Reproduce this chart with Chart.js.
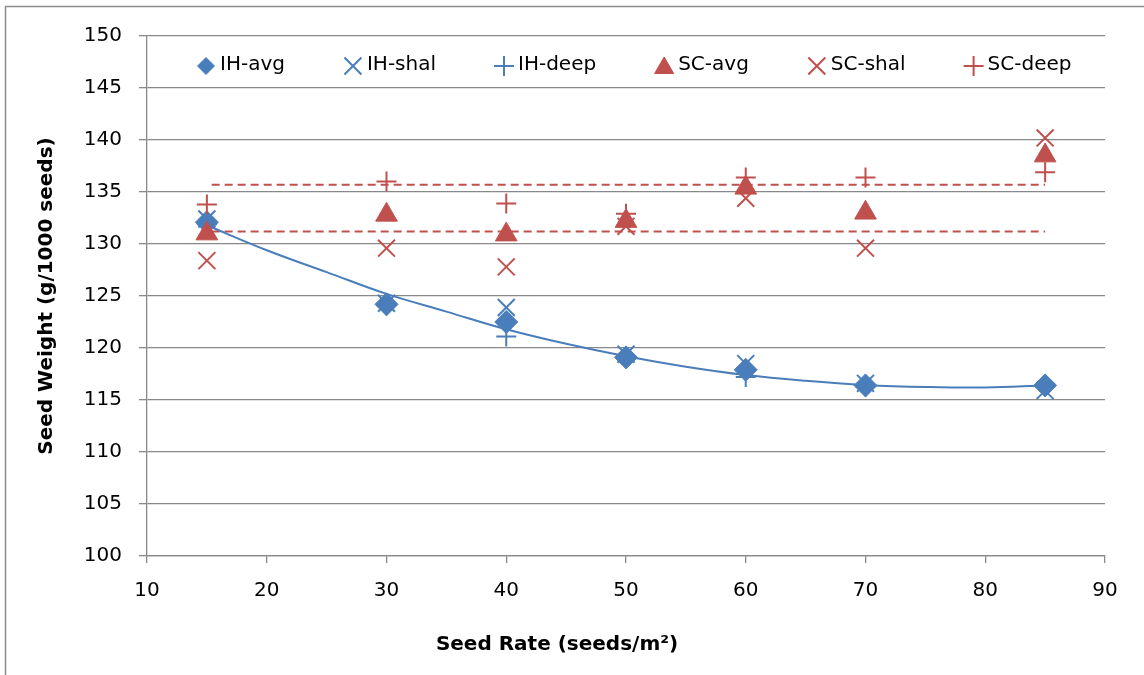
<!DOCTYPE html>
<html>
<head>
<meta charset="utf-8">
<script src="https://cdn.jsdelivr.net/npm/chart.js@4.4.0/dist/chart.umd.min.js"></script>
<style>
html,body{margin:0;padding:0;background:#fff;}
#wrap{position:relative;width:1144px;height:675px;}
</style>
</head>
<body>
<div id="wrap"><canvas id="c" width="1144" height="675"></canvas></div>
<script>
// ---- data ----
const seedRates = [15, 30, 40, 50, 60, 70, 85];
const ihAvg  = [132.1, 124.2, 122.5, 119.1, 117.9, 116.4, 116.4];
const ihShal = [132.4, 124.3, 123.9, 119.4, 118.5, 116.6, 115.9];
const ihDeep = [131.9, 124.1, 121.1, 119.0, 117.2, 116.3, 116.5];
const scAvg  = [131.0, 132.8, 130.9, 132.2, 135.4, 133.0, 138.5];
const scShal = [128.4, 129.6, 127.8, 131.7, 134.4, 129.6, 140.2];
const scDeep = [133.8, 136.0, 133.9, 132.9, 136.4, 136.4, 136.9];

// IH trendline (polynomial curve) read at sample x positions
const trendX  = [15, 20, 25, 30, 35, 40, 45, 50, 55, 60, 65, 70, 75, 80, 85];
const trendIH = [131.8, 129.4, 127.3, 125.2, 123.5, 121.8, 120.4, 119.2, 118.2, 117.4, 116.85, 116.45, 116.25, 116.2, 116.4];

// SC horizontal dashed reference lines
const refX       = [15.4, 85];
const scUpperRef = [135.7, 135.7];
const scLowerRef = [131.2, 131.2];

const seriesLabels = ['IH-avg', 'IH-shal', 'IH-deep', 'SC-avg', 'SC-shal', 'SC-deep'];
const xTitle = 'Seed Rate (seeds/m\u00B2)';
const yTitle = 'Seed Weight (g/1000 seeds)';

// ---- helpers ----
const pts = (xs, ys) => xs.map((x, i) => ({x: x, y: ys[i]}));
const BLUE = '#4A7EBB', RED = '#C0504D', GRID = '#898989';

function markerSet(label, values, style, radius, color, filled, ord) {
  return {
    label: label,
    data: pts(seedRates, values),
    showLine: false,
    pointStyle: style,
    pointRadius: radius,
    pointHoverRadius: radius,
    backgroundColor: filled ? color : 'rgba(0,0,0,0)',
    borderColor: color,
    pointBorderWidth: filled ? 1 : 2,
    inLegend: true,
    order: ord
  };
}

const datasets = [
  markerSet(seriesLabels[0], ihAvg,  'rectRot',  11.5, BLUE, true, 6),
  markerSet(seriesLabels[1], ihShal, 'crossRot', 12, BLUE, false, 5),
  markerSet(seriesLabels[2], ihDeep, 'cross',    10, BLUE, false, 4),
  markerSet(seriesLabels[3], scAvg,  'triangle', 12.5, RED, true, 3),
  markerSet(seriesLabels[4], scShal, 'crossRot', 12, RED, false, 2),
  markerSet(seriesLabels[5], scDeep, 'cross',    10, RED, false, 1),
  { label: 'IH trend', data: pts(trendX, trendIH), showLine: true, pointRadius: 0,
    borderColor: BLUE, borderWidth: 2, tension: 0.4, fill: false, order: 10 },
  { label: 'SC upper', data: pts(refX, scUpperRef), showLine: true, pointRadius: 0,
    borderColor: RED, borderWidth: 2, borderDash: [8, 5], fill: false, order: 11 },
  { label: 'SC lower', data: pts(refX, scLowerRef), showLine: true, pointRadius: 0,
    borderColor: RED, borderWidth: 2, borderDash: [8, 5], fill: false, order: 12 }
];

const bgBorder = {
  id: 'bgBorder',
  beforeDraw(chart) {
    const ctx = chart.ctx;
    ctx.save();
    ctx.fillStyle = '#fff';
    ctx.fillRect(0, 0, chart.width, chart.height);
    ctx.strokeStyle = '#8c8c8c';
    ctx.lineWidth = 1.5;
    ctx.strokeRect(5.5, 6.5, chart.width + 20, chart.height + 20);
    ctx.restore();
  }
};

const insideLegend = {
  id: 'insideLegend',
  afterDraw(chart) {
    const ctx = chart.ctx;
    const H = Chart.helpers;
    ctx.save();
    ctx.font = '20px "DejaVu Sans"';
    ctx.textBaseline = 'middle';
    ctx.textAlign = 'left';
    let mx = chart.chartArea.left + 59;
    const y = chart.chartArea.top + 29;
    chart.data.datasets.forEach(ds => {
      if (!ds.inLegend) return;
      ctx.fillStyle = ds.backgroundColor;
      ctx.strokeStyle = ds.borderColor;
      ctx.lineWidth = ds.pointBorderWidth;
      const r = ds.pointStyle === 'rectRot' ? 8.5 : (ds.pointStyle === 'triangle' ? 11 : ds.pointRadius);
      H.drawPoint(ctx, {pointStyle: ds.pointStyle, radius: r, rotation: 0, borderWidth: ds.pointBorderWidth}, mx, y + (ds.pointStyle === 'triangle' ? 3 : 1));
      ctx.fillStyle = '#000';
      ctx.fillText(ds.label, mx + 14, y);
      const w = ctx.measureText(ds.label).width;
      mx = mx + 14 + w + 68;
    });
    ctx.restore();
  }
};

const xTitlePlugin = {
  id: 'xTitlePlugin',
  afterDraw(chart) {
    const ctx = chart.ctx;
    ctx.save();
    ctx.font = 'bold 20px "DejaVu Sans"';
    ctx.fillStyle = '#000';
    ctx.textAlign = 'center';
    ctx.textBaseline = 'middle';
    ctx.fillText(xTitle, 557, 645);
    ctx.restore();
  }
};

new Chart(document.getElementById('c'), {
  type: 'scatter',
  data: { datasets: datasets },
  plugins: [bgBorder, insideLegend, xTitlePlugin],
  options: {
    responsive: false,
    animation: false,
    events: [],
    layout: { padding: { left: 0, top: 36, right: 39, bottom: 0 } },
    plugins: { legend: { display: false }, tooltip: { enabled: false } },
    scales: {
      x: {
        type: 'linear', min: 10, max: 90,
        afterFit: s => { s.height = 119; },
        ticks: { stepSize: 10, padding: 16, color: '#000', font: { family: 'DejaVu Sans', size: 20 } },
        grid: { drawOnChartArea: false, drawTicks: true, tickLength: 7, color: GRID, lineWidth: 1.3 },
        border: { display: true, color: GRID, width: 1.3 }
      },
      y: {
        type: 'linear', min: 100, max: 150,
        afterFit: s => { s.width = 147; },
        ticks: { stepSize: 5, padding: 17, color: '#000', font: { family: 'DejaVu Sans', size: 20 } },
        grid: { drawOnChartArea: true, drawTicks: true, tickLength: 8, color: GRID, lineWidth: 1.3 },
        border: { display: true, color: GRID, width: 1.3 },
        title: { display: true, text: yTitle, color: '#000', padding: { top: 35, bottom: 0 },
                 font: { family: 'DejaVu Sans', size: 20, weight: 'bold' } }
      }
    }
  }
});
</script>
</body>
</html>
